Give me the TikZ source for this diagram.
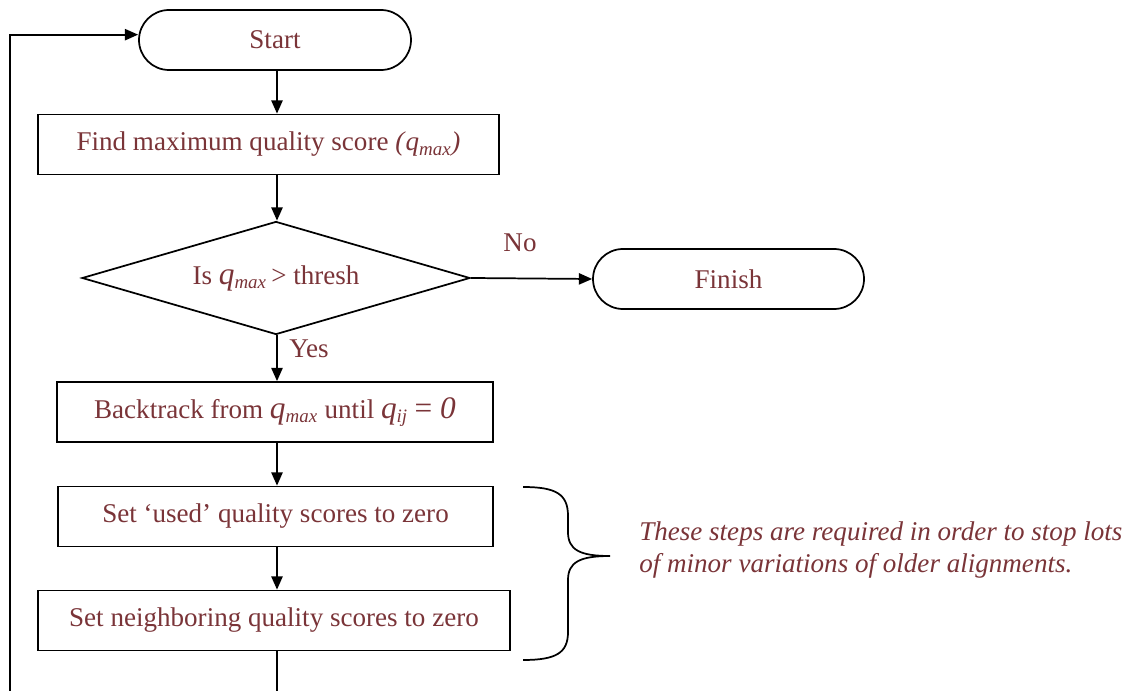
\documentclass[tikz,border=0pt]{standalone}
\usepackage{fontspec}
\setmainfont{Liberation Serif}
\usetikzlibrary{arrows.meta,shapes.misc,shapes.geometric}
\definecolor{txtred}{RGB}{122,52,56}
\newcommand{\qsub}[1]{\textit{q}\textsubscript{\textit{#1}}}
\newcommand{\bigq}[1]{{\fontsize{23.5}{26}\selectfont\textit{q}}\textsubscript{\textit{#1}}}
\begin{document}
\begin{tikzpicture}[x=0.75pt,y=0.75pt,yscale=-1,xscale=1,
  every node/.style={text=txtred,font=\fontsize{20.3}{24}\selectfont,inner sep=0.75pt},
  termbox/.style={draw=black,line width=1.3pt,rounded rectangle,minimum height=45pt},
  stepbox/.style={draw=black,line width=1.3pt,rectangle,minimum height=45pt},
  testbox/.style={draw=black,line width=1.3pt,diamond,aspect=3.43,inner sep=0pt,minimum width=291pt,minimum height=84.75pt},
  flow/.style={line width=1.3pt,-{Triangle[length=10pt,width=8.5pt]}}]
\useasboundingbox (0,0) rectangle (1124,691);
\coordinate (spine) at (277,0);

%Shape: Terminals
\node [termbox,minimum width=205.5pt] (start) at (275,40) {Start};
\node [termbox,minimum width=204.75pt] (finish) at (728.5,279) {Finish};
%Shape: Steps
\node [stepbox,minimum width=345.75pt] (findmax) at (268.5,144.5) {Find maximum quality score \textit{(}\qsub{max}\textit{)}};
\node [testbox] (test) at (276,278) {Is \bigq{max}\,{>} thresh};
\node [stepbox,minimum width=327pt] (backtrack) at (275,412) {Backtrack from \bigq{max} until \bigq{ij} {\fontsize{23.5}{26}\selectfont = \textit{0}}};
\node [stepbox,minimum width=326.25pt] (zeroused) at (275.5,516.5) {Set `used' quality scores to zero};
\node [stepbox,minimum width=354pt] (zeronbr) at (274,620.5) {Set neighboring quality scores to zero};

%Straight Lines
\draw [flow] (start.south -| spine) -- (findmax.north -| spine);
\draw [flow] (findmax.south -| spine) -- (test.north -| spine);
\draw [flow] (test.east) -- (finish.west);
\draw [flow] (test.south -| spine) -- (backtrack.north -| spine);
\draw [flow] (backtrack.south -| spine) -- (zeroused.north -| spine);
\draw [flow] (zeroused.south -| spine) -- (zeronbr.north -| spine);
\coordinate (tailend) at (277,691);
\coordinate (loopend) at (10,691);
\draw [line width=1.3pt] (zeronbr.south -| spine) -- (tailend);
\draw [flow] (loopend) |- ([yshift=-4]start.west);

%Shape: Brace
\draw [line width=1.3pt] (523,487) .. controls (556,487) and (568,494) .. (568,516) -- (568,532) .. controls (568,550) and (580,556) .. (610,556) .. controls (580,556) and (568,562) .. (568,580) -- (568,632) .. controls (568,653) and (556,660) .. (523,660);

% Text Node
\node [anchor=center] (nolbl) at (520,243) {No};
% Text Node
\node [anchor=center] (yeslbl) at (309,349) {Yes};
% Text Node
\node [anchor=north west,align=left,font=\fontsize{20.3}{24}\selectfont\itshape] (note) at (638,520) {These steps are required in order to stop lots\\of minor variations of older alignments.};

\end{tikzpicture}
\end{document}
